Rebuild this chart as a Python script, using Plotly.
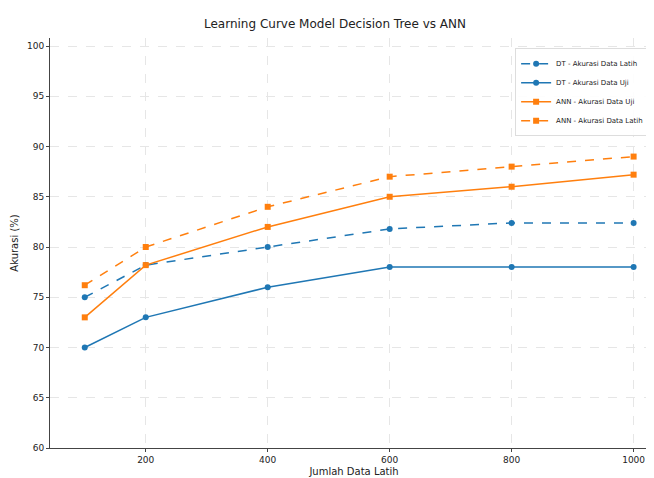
import plotly.graph_objects as go

train_sizes = [100, 200, 400, 600, 800, 1000]
dt_train = [75, 78.2, 80, 81.8, 82.4, 82.4]
dt_test = [70, 73, 76, 78, 78, 78]
ann_test = [73, 78.2, 82, 85, 86, 87.2]
ann_train = [76.2, 80, 84, 87, 88, 89]

x_ticks = [200, 400, 600, 800, 1000]
y_ticks = [60, 65, 70, 75, 80, 85, 90, 95, 100]

blue = "#1f77b4"
orange = "#ff7f0e"

fig = go.Figure()
fig.add_trace(go.Scatter(x=train_sizes, y=dt_train, mode="lines+markers",
                         name="DT - Akurasi Data Latih",
                         line=dict(color=blue, width=1.5, dash="dash"),
                         marker=dict(symbol="circle", size=6, color=blue)))
fig.add_trace(go.Scatter(x=train_sizes, y=dt_test, mode="lines+markers",
                         name="DT - Akurasi Data Uji",
                         line=dict(color=blue, width=1.5),
                         marker=dict(symbol="circle", size=6, color=blue)))
fig.add_trace(go.Scatter(x=train_sizes, y=ann_test, mode="lines+markers",
                         name="ANN - Akurasi Data Uji",
                         line=dict(color=orange, width=1.5),
                         marker=dict(symbol="square", size=6, color=orange)))
fig.add_trace(go.Scatter(x=train_sizes, y=ann_train, mode="lines+markers",
                         name="ANN - Akurasi Data Latih",
                         line=dict(color=orange, width=1.5, dash="dash"),
                         marker=dict(symbol="square", size=6, color=orange)))

fig.update_layout(
    width=654, height=478,
    margin=dict(l=42, r=4, t=30, b=38, autoexpand=False),
    paper_bgcolor="white", plot_bgcolor="white",
    font=dict(family="DejaVu Sans", size=9, color="#222"),
    title=dict(text="Learning Curve Model Decision Tree vs ANN",
               x=0.5, xanchor="center", y=0.975, yanchor="top",
               font=dict(size=12, color="#222")),
    showlegend=True,
    legend=dict(x=0.765, y=0.975, xanchor="left", yanchor="top",
                bgcolor="rgba(255,255,255,0.9)", bordercolor="#ddd", borderwidth=1,
                font=dict(size=7, family="DejaVu Sans"), itemwidth=30, tracegroupgap=0),
    xaxis=dict(title=dict(text="Jumlah Data Latih", font=dict(size=10), standoff=4),
               range=[43, 1040], tickvals=x_ticks, ticks="outside", ticklen=3,
               showline=True, linecolor="#444", mirror=False, automargin=False,
               showgrid=True, gridcolor="#e6e6e6", griddash="dash", zeroline=False),
    yaxis=dict(title=dict(text="Akurasi (%)", font=dict(size=10), standoff=6),
               range=[60, 100.8], tickvals=y_ticks, ticks="outside", ticklen=3,
               showline=True, linecolor="#444", automargin=False,
               showgrid=True, gridcolor="#e6e6e6", griddash="dash", zeroline=False),
)

fig.write_html("out.html")
